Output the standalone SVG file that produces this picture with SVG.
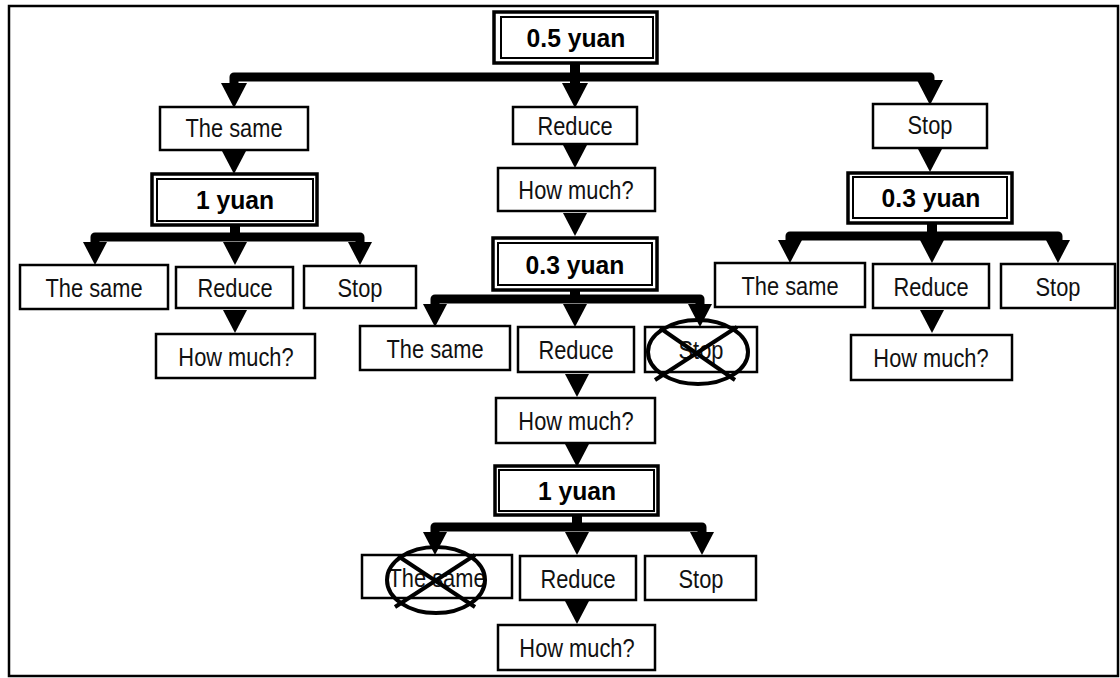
<svg xmlns="http://www.w3.org/2000/svg" xmlns:xlink="http://www.w3.org/1999/xlink" width="1120" height="678" viewBox="0 0 1120 678">
<style>
.box{fill:#fff;stroke:#000;stroke-width:2.5}
.outer{fill:#fff;stroke:#000;stroke-width:3.5}
.inner{fill:none;stroke:#000;stroke-width:2}
.t{font-family:"Liberation Sans",Arial,sans-serif;font-size:26px;text-anchor:middle;fill:#111}
.b{font-family:"Liberation Sans",Arial,sans-serif;font-size:26px;font-weight:bold;text-anchor:middle;fill:#000}
.bar{fill:none;stroke:#000;stroke-width:9;stroke-linejoin:round}
.stem{stroke:#000;stroke-width:10}
.x{fill:none;stroke:#000;stroke-width:4}
</style>
<defs>
<path id="ah" d="M-13,0 L13,0 L0,25 Z" fill="#000"/>
<path id="ahs" d="M-12,0 L12,0 L0,23 Z" fill="#000"/>
</defs>
<rect x="9" y="6" width="1109" height="670" fill="#fff" stroke="#000" stroke-width="2.5"/>

<g id="connectors">
  <line class="stem" x1="575" y1="63" x2="575" y2="80"/>
  <path class="bar" d="M234,88 V77 H930 V88"/>
  <line class="stem" x1="575" y1="77" x2="575" y2="88"/>
  <use xlink:href="#ah" x="234" y="83"/>
  <use xlink:href="#ah" x="575" y="83"/>
  <use xlink:href="#ah" x="930" y="80"/>
  <use xlink:href="#ahs" x="234" y="151"/>
  <line class="stem" x1="235" y1="225" x2="235" y2="240"/>
  <path class="bar" d="M95,246 V237 H360 V246"/>
  <use xlink:href="#ahs" x="95" y="242"/>
  <use xlink:href="#ahs" x="235" y="242"/>
  <use xlink:href="#ahs" x="360" y="242"/>
  <use xlink:href="#ahs" x="235" y="310"/>
  <use xlink:href="#ahs" x="575" y="145"/>
  <use xlink:href="#ahs" x="575" y="213"/>
  <line class="stem" x1="575" y1="290" x2="575" y2="302"/>
  <path class="bar" d="M435,308 V299 H700 V308"/>
  <use xlink:href="#ahs" x="435" y="304"/>
  <use xlink:href="#ahs" x="575" y="304"/>
  <use xlink:href="#ahs" x="700" y="304"/>
  <use xlink:href="#ahs" x="577" y="374"/>
  <use xlink:href="#ahs" x="577" y="444"/>
  <line class="stem" x1="577" y1="515" x2="577" y2="530"/>
  <path class="bar" d="M435,536 V527 H702 V536"/>
  <use xlink:href="#ahs" x="435" y="532"/>
  <use xlink:href="#ahs" x="577" y="532"/>
  <use xlink:href="#ahs" x="702" y="532"/>
  <use xlink:href="#ahs" x="577" y="601"/>
  <use xlink:href="#ahs" x="930" y="149"/>
  <line class="stem" x1="932" y1="223" x2="932" y2="240"/>
  <path class="bar" d="M790,245 V236 H1058 V245"/>
  <use xlink:href="#ahs" x="790" y="240"/>
  <use xlink:href="#ahs" x="932" y="240"/>
  <use xlink:href="#ahs" x="1058" y="240"/>
  <use xlink:href="#ahs" x="932" y="310"/>
</g>

<g id="n-root">
  <rect class="outer" x="494" y="12" width="163" height="51"/>
  <rect class="inner" x="501" y="17" width="152" height="41"/>
  <text class="b" transform="translate(576,47) scale(0.95,1)">0.5 yuan</text>
</g>

<g id="n-l1-same">
  <rect class="box" x="160" y="107" width="148" height="43"/>
  <text class="t" transform="translate(234,137) scale(0.84,1)">The same</text>
</g>
<g id="n-l1-reduce">
  <rect class="box" x="513" y="107" width="124" height="37"/>
  <text class="t" transform="translate(575,135) scale(0.84,1)">Reduce</text>
</g>
<g id="n-l1-stop">
  <rect class="box" x="873" y="104" width="114" height="44"/>
  <text class="t" transform="translate(930,134) scale(0.84,1)">Stop</text>
</g>

<g id="n-l-1yuan">
  <rect class="outer" x="152" y="174" width="165" height="51"/>
  <rect class="inner" x="157" y="179" width="156" height="42"/>
  <text class="b" transform="translate(235,209) scale(0.95,1)">1 yuan</text>
</g>
<g id="n-l-same">
  <rect class="box" x="20" y="265" width="148" height="44"/>
  <text class="t" transform="translate(94,297) scale(0.84,1)">The same</text>
</g>
<g id="n-l-reduce">
  <rect class="box" x="176" y="267" width="117" height="41"/>
  <text class="t" transform="translate(235,297) scale(0.84,1)">Reduce</text>
</g>
<g id="n-l-stop">
  <rect class="box" x="304" y="266" width="112" height="42"/>
  <text class="t" transform="translate(360,297) scale(0.84,1)">Stop</text>
</g>
<g id="n-l-how">
  <rect class="box" x="156" y="334" width="159" height="44"/>
  <text class="t" transform="translate(236,366) scale(0.84,1)">How much?</text>
</g>

<g id="n-m-how1">
  <rect class="box" x="498" y="168" width="157" height="43"/>
  <text class="t" transform="translate(576,199) scale(0.84,1)">How much?</text>
</g>
<g id="n-m-03yuan">
  <rect class="outer" x="493" y="238" width="164" height="52"/>
  <rect class="inner" x="498" y="243" width="154" height="42"/>
  <text class="b" transform="translate(575,274) scale(0.95,1)">0.3 yuan</text>
</g>
<g id="n-m-same">
  <rect class="box" x="360" y="326" width="150" height="44"/>
  <text class="t" transform="translate(435,358) scale(0.84,1)">The same</text>
</g>
<g id="n-m-reduce">
  <rect class="box" x="518" y="327" width="116" height="45"/>
  <text class="t" transform="translate(576,359) scale(0.84,1)">Reduce</text>
</g>
<g id="n-m-stop">
  <rect class="box" x="645" y="327" width="112" height="45"/>
  <text class="t" transform="translate(701,359) scale(0.84,1)">Stop</text>
  <ellipse class="x" cx="698" cy="352" rx="50" ry="32"/>
  <line class="x" x1="660" y1="328" x2="735" y2="380"/>
  <line class="x" x1="737" y1="327" x2="655" y2="380"/>
</g>
<g id="n-m-how2">
  <rect class="box" x="496" y="398" width="159" height="45"/>
  <text class="t" transform="translate(576,430) scale(0.84,1)">How much?</text>
</g>
<g id="n-m-1yuan">
  <rect class="outer" x="495" y="466" width="163" height="49"/>
  <rect class="inner" x="499" y="470" width="155" height="41"/>
  <text class="b" transform="translate(577,500) scale(0.95,1)">1 yuan</text>
</g>
<g id="n-m-same2">
  <rect class="box" x="362" y="555" width="150" height="43"/>
  <text class="t" transform="translate(437,587) scale(0.84,1)">The same</text>
  <ellipse class="x" cx="436" cy="580" rx="49" ry="33"/>
  <line class="x" x1="398" y1="556" x2="475" y2="607"/>
  <line class="x" x1="475" y1="555" x2="395" y2="607"/>
</g>
<g id="n-m-reduce2">
  <rect class="box" x="520" y="556" width="116" height="44"/>
  <text class="t" transform="translate(578,588) scale(0.84,1)">Reduce</text>
</g>
<g id="n-m-stop2">
  <rect class="box" x="645" y="556" width="111" height="44"/>
  <text class="t" transform="translate(701,588) scale(0.84,1)">Stop</text>
</g>
<g id="n-m-how3">
  <rect class="box" x="498" y="625" width="157" height="45"/>
  <text class="t" transform="translate(577,657) scale(0.84,1)">How much?</text>
</g>

<g id="n-r-03yuan">
  <rect class="outer" x="848" y="173" width="164" height="50"/>
  <rect class="inner" x="853" y="177" width="154" height="41"/>
  <text class="b" transform="translate(931,207) scale(0.95,1)">0.3 yuan</text>
</g>
<g id="n-r-same">
  <rect class="box" x="715" y="263" width="150" height="44"/>
  <text class="t" transform="translate(790,295) scale(0.84,1)">The same</text>
</g>
<g id="n-r-reduce">
  <rect class="box" x="873" y="264" width="116" height="44"/>
  <text class="t" transform="translate(931,296) scale(0.84,1)">Reduce</text>
</g>
<g id="n-r-stop">
  <rect class="box" x="1001" y="264" width="114" height="44"/>
  <text class="t" transform="translate(1058,296) scale(0.84,1)">Stop</text>
</g>
<g id="n-r-how">
  <rect class="box" x="851" y="335" width="161" height="45"/>
  <text class="t" transform="translate(931,367) scale(0.84,1)">How much?</text>
</g>
</svg>
